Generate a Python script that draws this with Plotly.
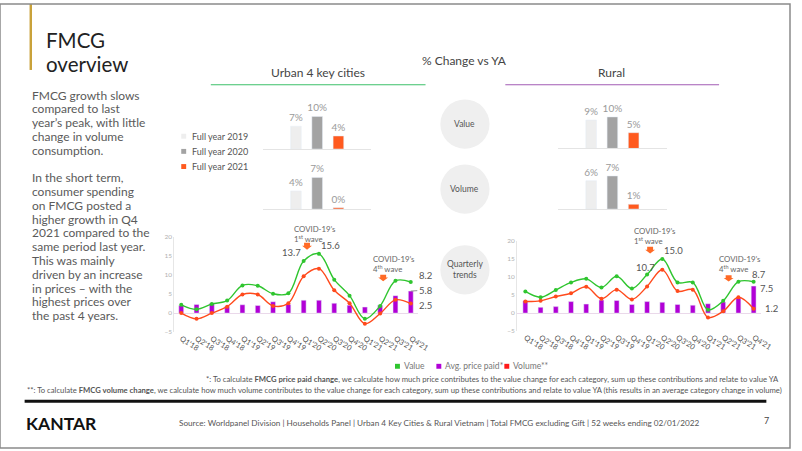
import plotly.graph_objects as go

W, H = 802, 451
FONT = "Lato"

# ---------------- data ----------------
years = ["2019", "2020", "2021"]
year_labels = ["Full year 2019", "Full year 2020", "Full year 2021"]
year_colors = ["#eeeeee", "#a3a3a3", "#ff5a1f"]

urban_value_fy = [7, 10, 4]
urban_volume_fy = [4, 7, 0.3]
rural_value_fy = [9, 10, 5]
rural_volume_fy = [6, 7, 1]

quarters = ["Q1'18", "Q2'18", "Q3'18", "Q4'18", "Q1'19", "Q2'19", "Q3'19", "Q4'19",
            "Q1'20", "Q2'20", "Q3'20", "Q4'20", "Q1'21", "Q2'21", "Q3'21", "Q4'21"]

urban_value_q = [2.2, 1.0, 2.4, 3.3, 7.3, 7.2, 5.1, 5.2, 13.7, 15.6, 8.8, 4.6, -1.5, 1.9, 8.5, 8.2]
urban_price_q = [2.0, 2.3, 2.6, 1.8, 2.2, 2.0, 3.0, 2.3, 3.4, 3.4, 2.6, 2.1, 1.6, 2.1, 4.6, 5.8]
urban_volume_q = [0.0, -1.5, 0.0, 1.7, 4.9, 4.9, 1.9, 2.6, 9.7, 11.7, 6.0, 2.6, -2.8, -0.1, 3.5, 2.5]

rural_value_q = [6.0, 4.4, 6.4, 8.5, 9.5, 7.1, 10.2, 6.8, 10.7, 15.0, 8.5, 8.5, 0.9, 3.4, 8.7, 8.7]
rural_price_q = [3.4, 1.6, 1.8, 3.2, 2.5, 3.6, 3.5, 2.4, 3.2, 3.0, 2.4, 2.2, 2.6, 3.1, 4.2, 7.5]
rural_volume_q = [3.2, 3.4, 4.6, 5.5, 7.3, 4.0, 6.5, 3.8, 7.4, 12.0, 6.1, 6.5, -1.2, 0.5, 4.4, 1.2]

GREEN = "#2fc52f"
PURPLE = "#b100d6"
RED = "#ff4a1c"


def fx(px):
    return px / W


def fy(py):
    return 1 - py / H


fig = go.Figure()

# ---------------- full-year bars ----------------
top_panels = [
    ("x", "y", urban_value_fy),
    ("x2", "y2", urban_volume_fy),
    ("x3", "y3", rural_value_fy),
    ("x4", "y4", rural_volume_fy),
]
for xa, ya, vals in top_panels:
    fig.add_trace(go.Bar(
        x=years, y=vals, xaxis=xa, yaxis=ya, marker_color=year_colors,
        width=0.5, texttemplate="%{y:.0f}%", textposition="outside",
        textfont=dict(size=10, color="#9a9a9a", family=FONT),
        constraintext="none", cliponaxis=False, showlegend=False, hoverinfo="skip"))

# ---------------- quarterly charts ----------------
for xa, ya, val, price, vol in [("x5", "y5", urban_value_q, urban_price_q, urban_volume_q),
                                ("x6", "y6", rural_value_q, rural_price_q, rural_volume_q)]:
    fig.add_trace(go.Bar(x=quarters, y=price, xaxis=xa, yaxis=ya, marker_color=PURPLE,
                         width=0.32, showlegend=False, hoverinfo="skip"))
    fig.add_trace(go.Scatter(x=quarters, y=vol, xaxis=xa, yaxis=ya, mode="lines+markers",
                             line=dict(color=RED, width=1.4, shape="spline", smoothing=1.0),
                             marker=dict(size=4, color=RED), showlegend=False, hoverinfo="skip",
                             cliponaxis=False))
    fig.add_trace(go.Scatter(x=quarters, y=val, xaxis=xa, yaxis=ya, mode="lines+markers",
                             line=dict(color=GREEN, width=1.4, shape="spline", smoothing=1.0),
                             marker=dict(size=4, color=GREEN), showlegend=False, hoverinfo="skip",
                             cliponaxis=False))

# ---------------- axes ----------------
def bar_axes(xd, yd, yr):
    xa = dict(domain=[fx(xd[0]), fx(xd[1])], range=[-1.55, 3.55], showticklabels=False,
              showgrid=False, zeroline=False, showline=True, linecolor="#e4e4e4", linewidth=1,
              ticks="", fixedrange=True)
    ya = dict(domain=[fy(yd[1]), fy(yd[0])], range=yr, visible=False, fixedrange=True)
    return xa, ya


layout_axes = {}
for i, (xd, yd, yr) in enumerate([
        ((267, 377), (107.3, 147.3), [0, 12.1]),
        ((267, 377), (168.3, 208.3), [0, 8.7]),
        ((566.7, 676.7), (106.7, 146.7), [0, 12.5]),
        ((566.7, 676.7), (168.3, 208.3), [0, 8.33])], start=1):
    xa, ya = bar_axes(xd, yd, yr)
    sx = "" if i == 1 else str(i)
    xa["anchor"] = "y" + sx
    ya["anchor"] = "x" + sx
    layout_axes["xaxis" + sx] = xa
    layout_axes["yaxis" + sx] = ya


def q_axes(xd, xr, yd, idx):
    xa = dict(domain=[fx(xd[0]), fx(xd[1])], range=xr, anchor="y" + idx, showgrid=False,
              zeroline=False, showline=False, ticks="", tickangle=32,
              tickfont=dict(size=7.5, color="#555555", family=FONT), fixedrange=True)
    ya = dict(domain=[fy(yd[1]), fy(yd[0])], range=[-5, 20], anchor="x" + idx,
              tickvals=[-5, 0, 5, 10, 15, 20], showgrid=False, zeroline=True,
              zerolinecolor="#ead9ea", zerolinewidth=1, showline=True, linecolor="#e6e6e6",
              linewidth=1, ticks="", tickfont=dict(size=6.5, color="#b0b0b0", family=FONT),
              fixedrange=True)
    return xa, ya


xa5, ya5 = q_axes((177, 424), [-0.45, 15.45], (236.8, 333.3), "5")
xa6, ya6 = q_axes((525, 772.8), [-0.54, 15.5], (240.7, 332.3), "6")
layout_axes.update(xaxis5=xa5, yaxis5=ya5, xaxis6=xa6, yaxis6=ya6)

# ---------------- annotations ----------------
ann = []


def txt(x, y, text, size=11, color="#444444", xanchor="left", yanchor="middle", align="left"):
    ann.append(dict(x=fx(x), y=fy(y), xref="paper", yref="paper", text=text, showarrow=False,
                    xanchor=xanchor, yanchor=yanchor, align=align,
                    font=dict(size=size, color=color, family=FONT)))


# title & body
txt(45, 37, "FMCG", size=20.5, color="#222222")
txt(45, 61, "overview", size=20.5, color="#222222")
body = ["FMCG growth slows", "compared to last", "year’s peak, with little", "change in volume",
        "consumption.", "", "In the short term,", "consumer spending", "on FMCG posted a",
        "higher growth in Q4", "2021 compared to the", "same period last year.", "This was mainly",
        "driven by an increase", "in prices – with the", "highest prices over", "the past 4 years."]
for i, line in enumerate(body):
    if line:
        txt(30, 92.5 + i * 14.0, line, size=12, color="#5a5a5a")

# headers
txt(472, 57, "% Change vs YA", size=12, color="#444444", xanchor="center")
txt(323, 70, "Urban 4 key cities", size=12, color="#444444", xanchor="center")
txt(621, 70, "Rural", size=12, color="#444444", xanchor="center")

# circle labels
txt(472, 122, "Value", size=8.5, color="#555555", xanchor="center")
txt(472, 188, "Volume", size=8.5, color="#555555", xanchor="center")
txt(472, 270, "Quarterly<br>trends", size=8.5, color="#555555", xanchor="center", align="center")

# full-year legend
for i, lab in enumerate(year_labels):
    txt(193, 134.3 + i * 15.4, lab, size=9, color="#555555")

# covid annotations
txt(296, 234, "COVID-19’s<br>1<sup>st</sup> wave", size=7.8, color="#666666")
txt(377, 264, "COVID-19’s<br>4<sup>th</sup> wave", size=7.8, color="#666666")
txt(642, 236, "COVID-19’s<br>1<sup>st</sup> wave", size=7.8, color="#666666")
txt(728, 264, "COVID-19’s<br>4<sup>th</sup> wave", size=7.8, color="#666666")


def val_label(xa, ya, qi, v, xanchor, xshift, yshift):
    ann.append(dict(x=quarters[qi], y=v, xref=xa, yref=ya, text=f"{v:.1f}", showarrow=False,
                    xanchor=xanchor, yanchor="middle", xshift=xshift, yshift=yshift,
                    font=dict(size=9.5, color="#555555", family=FONT)))


val_label("x5", "y5", 8, urban_value_q[8], "right", -1, 9)
val_label("x5", "y5", 9, urban_value_q[9], "left", 0, 8)
val_label("x5", "y5", 15, urban_value_q[15], "left", 6, 6)
val_label("x5", "y5", 15, urban_volume_q[15], "left", 6, -2)
ann.append(dict(x=quarters[15], y=urban_price_q[15], xref="x5", yref="y5",
                text=f"{urban_price_q[15]:.1f}", showarrow=True, arrowhead=0, arrowwidth=0.8,
                arrowcolor="#777777", ax=15, ay=-1, standoff=0,
                font=dict(size=9.5, color="#555555", family=FONT)))
val_label("x6", "y6", 8, rural_value_q[8], "center", -2, 7.5)
val_label("x6", "y6", 9, rural_value_q[9], "left", 0, 9)
val_label("x6", "y6", 15, rural_value_q[15], "center", 5, 7)
val_label("x6", "y6", 15, rural_price_q[15], "left", 4, -2.5)
val_label("x6", "y6", 15, rural_volume_q[15], "left", 9, 0)

# bottom legend
txt(408, 368, "Value", size=8.5, color="#777777")
txt(450, 368, "Avg. price paid*", size=8.5, color="#777777")
txt(519, 368, "Volume**", size=8.5, color="#777777")

# footnotes
txt(793, 381, "*: To calculate <b>FMCG price paid change</b>, we calculate how much price contributes to the value "
              "change for each category, sum up these contributions and relate to value YA",
    size=7.7, color="#555555", xanchor="right")
txt(796, 392, "**: To calculate <b>FMCG volume change</b>, we calculate how much volume contributes to the value "
              "change for each category, sum up these contributions and relate to value YA (this results in an "
              "average category change in volume)", size=7.7, color="#555555", xanchor="right")

# footer
ann.append(dict(x=fx(24), y=fy(426), xref="paper", yref="paper", text="<b>KANTAR</b>",
                showarrow=False, xanchor="left", yanchor="middle",
                font=dict(size=17.5, color="#111111", family="Lato")))
txt(446, 426, "Source: Worldpanel Division | Households Panel | Urban 4 Key Cities & Rural Vietnam | "
              "Total FMCG excluding Gift | 52 weeks ending 02/01/2022", size=8.2, color="#555555",
    xanchor="center")
txt(778, 423, "7", size=9, color="#444444", xanchor="center")

# ---------------- shapes ----------------
shapes = []


def rect(x0, y0, x1, y1, color, line=None):
    shapes.append(dict(type="rect", xref="paper", yref="paper", x0=fx(x0), x1=fx(x1),
                       y0=fy(y1), y1=fy(y0), fillcolor=color,
                       line=dict(width=0) if line is None else line, layer="below"))


def circle(cx, cy, r, color):
    shapes.append(dict(type="circle", xref="paper", yref="paper", x0=fx(cx - r), x1=fx(cx + r),
                       y0=fy(cy + r), y1=fy(cy - r), fillcolor=color, line=dict(width=0),
                       layer="below"))


def hline(x0, x1, y, color, width):
    shapes.append(dict(type="line", xref="paper", yref="paper", x0=fx(x0), x1=fx(x1),
                       y0=fy(y), y1=fy(y), line=dict(color=color, width=width)))


def down_arrow(cx, top, bottom, color="#ff6a26"):
    w_head = 5
    w_stem = 3
    mid = top + (bottom - top) * 0.45
    pts = [(cx - w_stem, top), (cx + w_stem, top), (cx + w_stem, mid), (cx + w_head, mid),
           (cx, bottom), (cx - w_head, mid), (cx - w_stem, mid)]
    path = "M " + " L ".join(f"{fx(px):.5f},{fy(py):.5f}" for px, py in pts) + " Z"
    shapes.append(dict(type="path", xref="paper", yref="paper", path=path, fillcolor=color,
                       line=dict(width=0)))


# page border and gold bar
shapes.append(dict(type="rect", xref="paper", yref="paper", x0=0, x1=1, y0=0, y1=1,
                   line=dict(color="#8a8a8a", width=1.5), fillcolor="rgba(0,0,0,0)"))
rect(30, 0, 32.5, 67, "#c9a23a")

# section header lines
hline(214, 432, 82, "#3cc06a", 1.2)
hline(513, 730, 82, "#a25bb5", 1.2)

# circles
circle(472, 122, 25, "#efefef")
circle(472, 188, 25, "#efefef")
circle(472, 270, 25, "#efefef")

# full-year legend squares
for i, c in enumerate(year_colors):
    rect(184, 131.8 + i * 15.4, 189, 136.8 + i * 15.4, c)

# covid arrows
down_arrow(311.7, 242.5, 249.5)
down_arrow(389, 275, 281.5)
down_arrow(660, 246.5, 253.5)
down_arrow(739.7, 275.5, 282)

# bottom legend squares
rect(401, 365.5, 406, 370.5, GREEN)
rect(443, 365.5, 448, 370.5, PURPLE)
rect(512, 365.5, 517, 370.5, "#ff1a1a")

# footer rule
hline(25, 778, 403.5, "#111111", 3)

fig.update_layout(
    width=W, height=H, margin=dict(l=0, r=0, t=0, b=0),
    paper_bgcolor="white", plot_bgcolor="rgba(0,0,0,0)",
    font=dict(family=FONT), showlegend=False, bargap=0.2,
    annotations=ann, shapes=shapes, **layout_axes)

fig.write_html("out.html", config={"displayModeBar": False},
               post_script="document.body.style.margin='0';document.body.style.padding='0';"
                           "document.body.style.overflow='hidden';")
